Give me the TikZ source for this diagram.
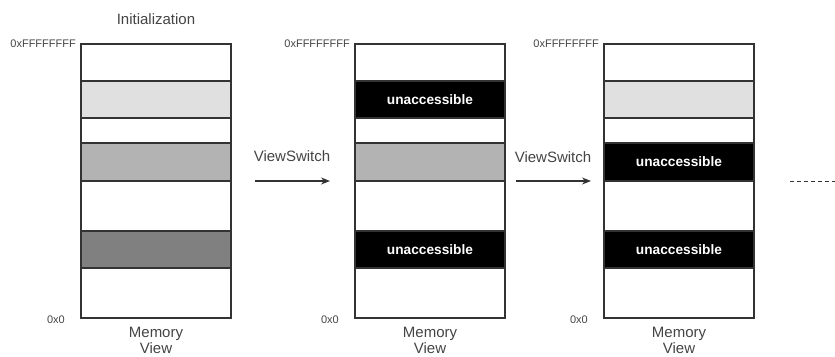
\documentclass[tikz,border=0pt]{standalone}
\usepackage{fontspec}
\setmainfont{Liberation Sans}
\usetikzlibrary{arrows.meta}
\definecolor{ink}{HTML}{333333}
\definecolor{txt}{HTML}{444444}
\definecolor{lightband}{HTML}{E0E0E0}
\definecolor{midband}{HTML}{B3B3B3}
\definecolor{darkband}{HTML}{808080}
\begin{document}
\begin{tikzpicture}[x=1pt,y=-1pt,
  band/.style={draw=ink, line width=1.2pt, anchor=north west, minimum width=150pt,
               inner sep=0pt, outer sep=0pt, fill=white},
  blocked/.style={band, fill=black, text=white,
                  font=\fontsize{13.7}{16}\selectfont\bfseries},
  addr/.style={anchor=east, text=txt, font=\fontsize{11}{13}\selectfont, inner sep=0pt},
  caption/.style={text=txt, font=\fontsize{15}{17}\selectfont, align=center, inner sep=0pt},
  memcap/.style={caption, font=\fontsize{15}{15.5}\selectfont, anchor=north},
  switch/.style={draw=ink, line width=1.2pt, -{Stealth[length=9pt,width=7pt]}},
  h1/.style={minimum height=37pt}, h2/.style={minimum height=25pt},
  h3/.style={minimum height=38pt}, h4/.style={minimum height=50pt},
]
\useasboundingbox (0,0) rectangle (835,356);

% --- initial memory view ---
\node[band, h1]                 (i1) at (81,44)  {};
\node[band, h1, fill=lightband] (i2) at (81,81)  {};
\node[band, h2]                 (i3) at (81,118) {};
\node[band, h3, fill=midband]   (i4) at (81,143) {};
\node[band, h4]                 (i5) at (81,181) {};
\node[band, h1, fill=darkband]  (i6) at (81,231) {};
\node[band, h4]                 (i7) at (81,268) {};

% --- view after the first switch ---
\node[band, h1]                 (s1) at (355,44)  {};
\node[blocked, h1]              (s2) at (355,81)  {unaccessible};
\node[band, h2]                 (s3) at (355,118) {};
\node[band, h3, fill=midband]   (s4) at (355,143) {};
\node[band, h4]                 (s5) at (355,181) {};
\node[blocked, h1]              (s6) at (355,231) {unaccessible};
\node[band, h4]                 (s7) at (355,268) {};

% --- view after the second switch ---
\node[band, h1]                 (t1) at (604,44)  {};
\node[band, h1, fill=lightband] (t2) at (604,81)  {};
\node[band, h2]                 (t3) at (604,118) {};
\node[blocked, h3]              (t4) at (604,143) {unaccessible};
\node[band, h4]                 (t5) at (604,181) {};
\node[blocked, h1]              (t6) at (604,231) {unaccessible};
\node[band, h4]                 (t7) at (604,268) {};

% --- title ---
\node[caption] (title) at ([yshift=25pt]i1.north) {Initialization};

% --- address labels and captions ---
\foreach \c in {i,s,t}{
  \node[addr] (\c-hi) at ([xshift=-5pt]\c1.north west) {0xFFFFFFFF};
  \node[addr] (\c-lo) at ([xshift=-16pt,yshift=-2pt]\c7.south west) {0x0};
  \node[memcap] (\c-cap) at ([yshift=-9pt]\c7.south) {Memory\\View};
}

% --- view switches ---
\coordinate (a1s) at (255,181);
\coordinate (a1e) at (330,181);
\coordinate (a2s) at (516,181);
\coordinate (a2e) at (591,181);
\draw[switch] (a1s) -- (a1e);
\draw[switch] (a2s) -- (a2e);
\node[caption] (l1) at (292,156) {ViewSwitch};
\node[caption] (l2) at (553,157) {ViewSwitch};

% --- continuation ---
\coordinate (d0) at (790,181);
\coordinate (d1) at (835,181);
\draw[ink, line width=1pt, dash pattern=on 4pt off 3pt] (d0) -- (d1);
\end{tikzpicture}
\end{document}
